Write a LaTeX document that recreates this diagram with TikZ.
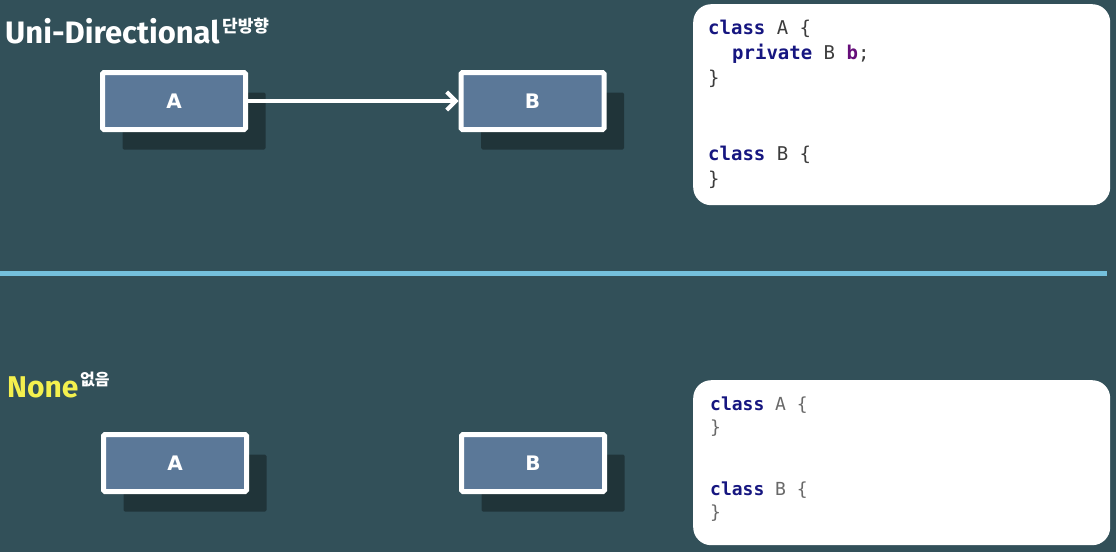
\documentclass[tikz,border=0pt]{standalone}
\usepackage{fontspec}
\usetikzlibrary{arrows.meta,shadows}
\newfontfamily\headfont{Fira Sans}
\newfontfamily\hangul{Noto Sans CJK KR}
\newfontfamily\codefont{DejaVu Sans Mono}
\newfontfamily\labelfont{DejaVu Sans}
\definecolor{BoardClr}{RGB}{50,80,89}
\definecolor{BoxClr}{RGB}{91,120,152}
\definecolor{RuleClr}{RGB}{116,192,220}
\definecolor{KeyClr}{RGB}{22,22,128}
\definecolor{FieldClr}{RGB}{102,14,122}
\definecolor{TextClr}{RGB}{60,60,60}
\definecolor{FaintClr}{RGB}{105,105,105}
\definecolor{NoneClr}{RGB}{244,240,78}
\newcommand\kw[1]{\textcolor{KeyClr}{\bfseries #1}}

\begin{document}
\begin{tikzpicture}[x=1pt,y=-1pt,
  cls/.style={draw=white,line width=5pt,fill=BoxClr,minimum width=143pt,minimum height=57pt,
    rounded corners=1.5pt,text=white,font=\labelfont\bfseries\fontsize{20}{20}\selectfont,
    drop shadow={shadow xshift=20pt,shadow yshift=-20pt,opacity=.35,fill=black}},
  codebox/.style={fill=white,rounded corners=18pt,minimum width=417pt,anchor=north west,inner sep=0pt},
  code/.style={anchor=base west,inner sep=0pt,text=TextClr,font=\codefont\fontsize{19}{19}\selectfont},
  faint/.style={code,text=FaintClr,font=\codefont\fontsize{18}{18}\selectfont},
  title/.style={anchor=base west,inner sep=0pt,font=\headfont\bfseries\fontsize{31}{31}\selectfont},
  kor/.style={anchor=base west,inner sep=0pt,text=white,font=\hangul\bfseries\fontsize{17}{17}\selectfont}]

\useasboundingbox (0,0) rectangle (1116,552);
\fill[BoardClr] (0,0) rectangle (1116,552);

% uni-directional
\node[title,text=white] (uniTitle) at (5,43) {Uni-Directional};
\node[kor] (uniKor) at (222,32) {단방향};

\node[cls] (uniA) at (174,101) {A};
\node[cls] (uniB) at (532.5,101) {B};
\draw[white,line width=4pt,-{Straight Barb[length=9pt,width=18pt]}] (uniA) -- (uniB);

\node[codebox,minimum height=201pt] (uniCode) at (693,4) {};
\node[code] (uniL1) at (708,34) {\kw{class} A \{};
\node[code] (uniL2) at (732,59) {\kw{private} B \textcolor{FieldClr}{\bfseries b};};
\node[code] (uniL3) at (708,84) {\}};
\node[code] (uniL4) at (708,160) {\kw{class} B \{};
\node[code] (uniL5) at (708,185) {\}};

\coordinate (ruleL) at (0,273);
\coordinate (ruleR) at (1107,273);
\draw[RuleClr,line width=5pt] (ruleL) -- (ruleR);

% none
\node[title,text=NoneClr,font=\headfont\bfseries\fontsize{30}{30}\selectfont] (noneTitle) at (7,397) {None};
\node[kor,font=\hangul\bfseries\fontsize{16}{16}\selectfont] (noneKor) at (80,385) {없음};

\node[cls] (noneA) at (175,463) {A};
\node[cls] (noneB) at (533,463) {B};

\node[codebox,minimum height=165pt] (noneCode) at (693,380) {};
\node[faint] (noneL1) at (710,410) {\kw{class} A \{};
\node[faint] (noneL2) at (710,433) {\}};
\node[faint] (noneL3) at (710,495) {\kw{class} B \{};
\node[faint] (noneL4) at (710,518) {\}};

\end{tikzpicture}
\end{document}
